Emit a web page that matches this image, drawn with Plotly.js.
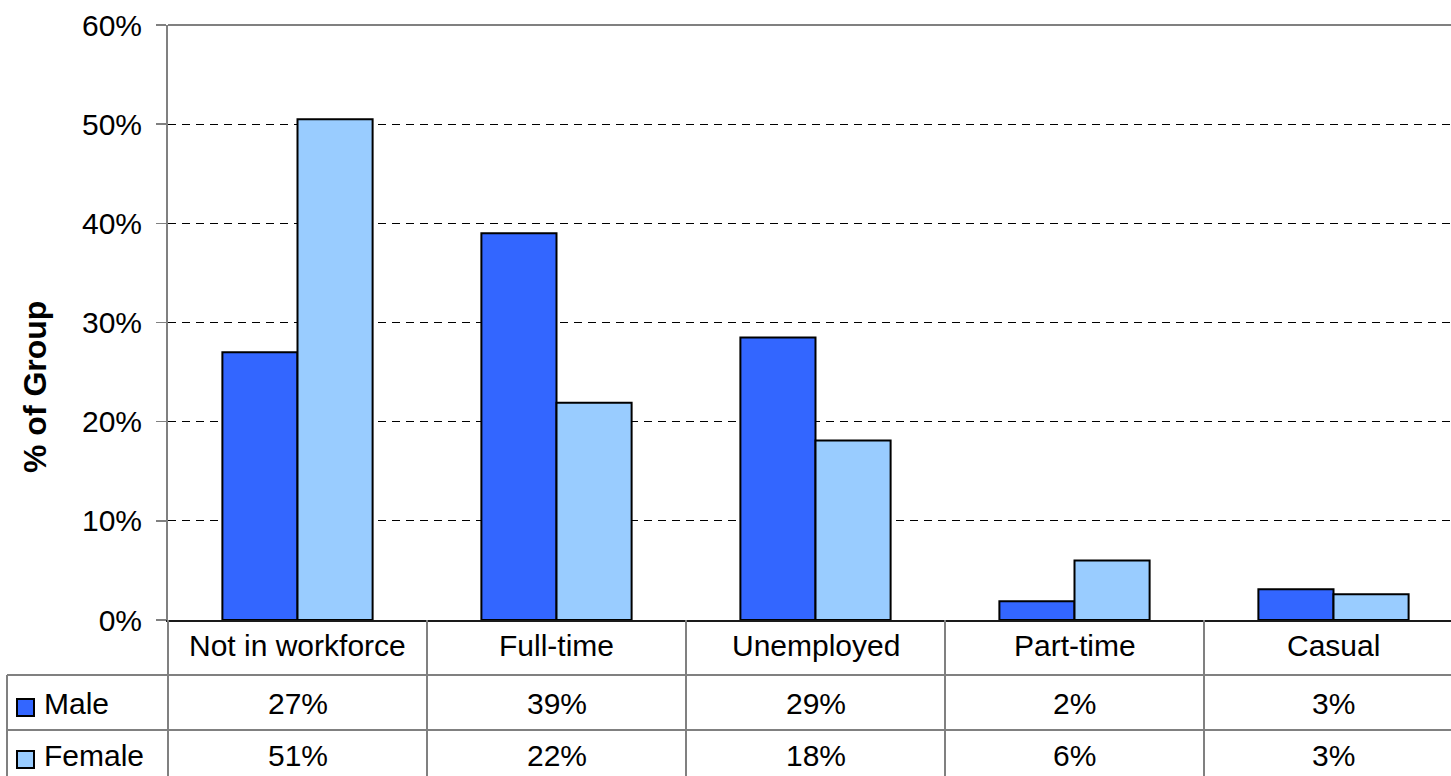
<!DOCTYPE html>
<html>
<head>
<meta charset="utf-8">
<script src="https://cdn.plot.ly/plotly-3.0.1.min.js"></script>
<style>
  html, body { margin: 0; padding: 0; background: #ffffff; overflow: hidden; }
  #chart { width: 1451px; height: 776px; }
</style>
</head>
<body>
<div id="chart"></div>
<script>
// ---- Data ----
const categories = ['Not in workforce', 'Full-time', 'Unemployed', 'Part-time', 'Casual'];
const seriesNames = ['Male', 'Female'];
const maleValues = [27.0, 39.0, 28.5, 1.9, 3.1];
const femaleValues = [50.5, 21.9, 18.1, 6.0, 2.6];
const yTickVals = [0, 10, 20, 30, 40, 50, 60];
const yTickText = ['0%', '10%', '20%', '30%', '40%', '50%', '60%'];
const yTitle = '% of Group';

// ---- Styling / layout helpers ----
const FONT = 'Liberation Sans, Arial, Helvetica, sans-serif';
const FS = 30;
const maleColor = '#3366FF';
const femaleColor = '#99CCFF';
const tableLine = '#808080';
const W = 1451, H = 776;
const plotL = 168, plotR = 1451, plotT = 25, plotB = 620;
const py = y => (plotB - y) / (plotB - plotT);     // pixel y -> paper y
const px = x => (x - plotL) / (plotR - plotL);     // pixel x -> paper x
const catWidthPx = 259;
const xMax = -0.5 + (plotR - plotL) / catWidthPx;

const traces = [
  {
    type: 'bar', name: seriesNames[0], x: categories, y: maleValues,
    marker: { color: maleColor, line: { color: '#000000', width: 2 } },
    hoverinfo: 'x+y'
  },
  {
    type: 'bar', name: seriesNames[1], x: categories, y: femaleValues,
    marker: { color: femaleColor, line: { color: '#000000', width: 2 } },
    hoverinfo: 'x+y'
  }
];

const shapes = [];
const annotations = [];
// top border of plot
shapes.push({ type: 'line', xref: 'paper', yref: 'paper', x0: 0, x1: 1, y0: 1, y1: 1,
  line: { color: tableLine, width: 2 }, layer: 'above' });
// left border continuing down through table
shapes.push({ type: 'line', xref: 'paper', yref: 'paper', x0: 0, x1: 0, y0: 0, y1: py(H + 2),
  line: { color: tableLine, width: 2 } });
// category separators in table
for (let i = 0; i < categories.length - 1; i++) {
  shapes.push({ type: 'line', xref: 'x', yref: 'paper', x0: i + 0.5, x1: i + 0.5, y0: 0, y1: py(H + 2),
    line: { color: tableLine, width: 2 } });
}
// horizontal table lines
[675, 730].forEach(y => {
  shapes.push({ type: 'line', xref: 'paper', yref: 'paper', x0: px(7), x1: 1, y0: py(y), y1: py(y),
    line: { color: tableLine, width: 2 } });
});
// left outer table edge
shapes.push({ type: 'line', xref: 'paper', yref: 'paper', x0: px(7), x1: px(7), y0: py(675), y1: py(H + 2),
  line: { color: tableLine, width: 2 } });

// category row
categories.forEach((c, i) => {
  annotations.push({ x: i, y: py(645), xref: 'x', yref: 'paper', text: c, showarrow: false,
    xanchor: 'center', yanchor: 'middle', font: { family: FONT, size: FS, color: '#000' } });
});
// value rows
const rows = [
  { name: seriesNames[0], vals: maleValues, color: maleColor, yc: 703 },
  { name: seriesNames[1], vals: femaleValues, color: femaleColor, yc: 755 }
];
rows.forEach(r => {
  r.vals.forEach((v, i) => {
    annotations.push({ x: i, y: py(r.yc), xref: 'x', yref: 'paper', text: Math.round(v) + '%',
      showarrow: false, xanchor: 'center', yanchor: 'middle',
      font: { family: FONT, size: FS, color: '#000' } });
  });
  annotations.push({ x: px(42), y: py(r.yc), xref: 'paper', yref: 'paper', text: r.name,
    showarrow: false, xanchor: 'left', yanchor: 'middle',
    font: { family: FONT, size: FS, color: '#000' } });
  shapes.push({ type: 'rect', xref: 'paper', yref: 'paper', x0: px(17), x1: px(34),
    y0: py(r.yc + 13), y1: py(r.yc - 4), fillcolor: r.color, line: { color: '#000', width: 2 } });
});
// y title
annotations.push({ x: px(35), y: py(387), xref: 'paper', yref: 'paper', text: '<b>' + yTitle + '</b>',
  textangle: -90, showarrow: false, xanchor: 'center', yanchor: 'middle',
  font: { family: FONT, size: 32, color: '#000' } });

const layout = {
  width: W, height: H,
  margin: { l: plotL, r: W - plotR, t: plotT, b: H - plotB, pad: 0 },
  paper_bgcolor: '#ffffff', plot_bgcolor: '#ffffff',
  showlegend: false,
  barmode: 'group', bargap: 0.42, bargroupgap: 0,
  font: { family: FONT, size: FS, color: '#000' },
  xaxis: {
    type: 'category', range: [-0.5, xMax], showticklabels: false, ticks: '',
    showgrid: false, zeroline: false, showline: true, linecolor: '#1a1a1a', linewidth: 2,
    fixedrange: true
  },
  yaxis: {
    range: [0, 60], tickmode: 'array', tickvals: yTickVals, ticktext: yTickText,
    ticks: 'outside', ticklen: 10, tickcolor: tableLine, tickwidth: 1.5,
    showline: true, linecolor: tableLine, linewidth: 2,
    showgrid: true, gridcolor: '#000000', gridwidth: 1, griddash: '8px,6px',
    zeroline: false, automargin: false, ticklabelstandoff: 8,
    tickfont: { family: FONT, size: FS, color: '#000' }, fixedrange: true
  },
  shapes: shapes,
  annotations: annotations
};

Plotly.newPlot('chart', traces, layout, { displayModeBar: false, staticPlot: true });
</script>
</body>
</html>
